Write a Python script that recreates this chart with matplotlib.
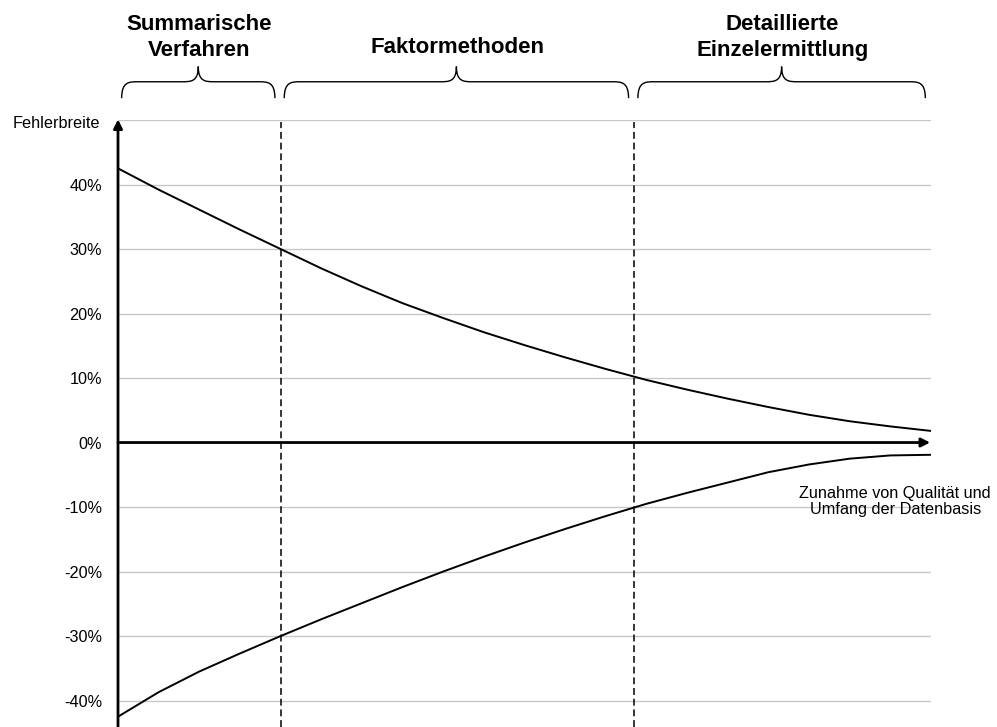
import numpy as np
import matplotlib.pyplot as plt
import matplotlib.transforms as mtransforms
from matplotlib.path import Path
from matplotlib.patches import PathPatch

plt.rcParams['font.family'] = ['Liberation Sans', 'DejaVu Sans']

# values (x = share of the axis, y = error in %)
x_pos = [0, 5, 10, 15, 20, 25, 30, 35, 40, 45, 50, 55, 60, 65, 70, 75, 80, 85, 90, 95, 100]
upper = [42.5, 39.2, 36.1, 33.0, 30.0, 27.0, 24.2, 21.6, 19.3, 17.1, 15.1,
         13.2, 11.4, 9.7, 8.2, 6.8, 5.5, 4.3, 3.3, 2.5, 1.8]
lower = [-42.5, -38.7, -35.5, -32.7, -30.0, -27.4, -24.9, -22.4, -20.0, -17.7, -15.5,
         -13.4, -11.4, -9.5, -7.8, -6.2, -4.6, -3.4, -2.5, -2.0, -1.9]

boundaries = [20, 63.5]
segment_names = ["Summarische\nVerfahren", "Faktormethoden", "Detaillierte\nEinzelermittlung"]
y_ticks = [-40, -30, -20, -10, 0, 10, 20, 30, 40]
y_labels = ["-40%", "-30%", "-20%", "-10%", "0%", "10%", "20%", "30%", "40%"]
grid_levels = [-40, -30, -20, -10, 10, 20, 30, 40, 50]
y_title = "Fehlerbreite"
x_title = "Zunahme von Qualität und\nUmfang der Datenbasis"

fig = plt.figure(figsize=(9.97, 7.27), dpi=100)
ax = fig.add_axes([118 / 997, 0, 813 / 997, 607 / 727])
ax.set_xlim(0, 100)
ax.set_ylim(-44.1, 50)
for s in ax.spines.values():
    s.set_visible(False)

for g in grid_levels:
    ax.axhline(g, color='#c8c8c8', lw=1, zorder=1)

ax.set_xticks([])
ax.set_yticks(y_ticks)
ax.set_yticklabels(y_labels, fontsize=11.7)
ax.tick_params(axis='y', length=0, pad=11.5)

# dashed separators
for b in boundaries:
    ax.plot([b, b], [-44.1, 49.7], color='black', lw=1.1, ls=(0, (4.5, 2.5)), zorder=2)

# curves
ax.plot(x_pos, upper, color='black', lw=1.4, zorder=3)
ax.plot(x_pos, lower, color='black', lw=1.4, zorder=3)

# axes arrows
ax.annotate('', xy=(0, 50.1), xytext=(0, -44.1), annotation_clip=False,
            arrowprops=dict(arrowstyle='-|>', lw=2, color='black', mutation_scale=13,
                            shrinkA=0, shrinkB=0), zorder=4)
ax.annotate('', xy=(99.9, 0), xytext=(0, 0), annotation_clip=False,
            arrowprops=dict(arrowstyle='-|>', lw=2, color='black', mutation_scale=13,
                            shrinkA=0, shrinkB=0), zorder=4)

fig.text(100 / 997, 1 - 124 / 727, y_title, ha='right', va='center', fontsize=11.7)
ax.text(95.6, -9.1, x_title, ha='center', va='center', fontsize=11.7,
        linespacing=1.1, multialignment='center')

# braces and section titles
trans = mtransforms.blended_transform_factory(ax.transData, ax.transAxes)
edges = [0] + boundaries + [100]


def brace(x0, x1, r=2.0, yb=1.036, yh=1.063, yt=1.088):
    xm = (x0 + x1) / 2
    verts = [(x0, yb),
             (x0, yh), (x0 + 0.45 * r, yh), (x0 + r, yh),
             (xm - r, yh),
             (xm - 0.45 * r, yh), (xm, yh), (xm, yt),
             (xm, yh), (xm + 0.45 * r, yh), (xm + r, yh),
             (x1 - r, yh),
             (x1 - 0.45 * r, yh), (x1, yh), (x1, yb)]
    codes = ([Path.MOVETO] + [Path.CURVE4] * 3 + [Path.LINETO] + [Path.CURVE4] * 6
             + [Path.LINETO] + [Path.CURVE4] * 3)
    ax.add_patch(PathPatch(Path(verts, codes), fc='none', ec='black', lw=1,
                           transform=trans, clip_on=False))


for i, name in enumerate(segment_names):
    a, b = edges[i], edges[i + 1]
    brace(a + 0.45, b - 0.7)
    ty = 1.136 if '\n' in name else 1.119
    ax.text((a + b) / 2, ty, name, transform=trans, ha='center', va='center',
            fontsize=16, fontweight='bold', linespacing=1.3)

fig.savefig("out.png", dpi=100)
